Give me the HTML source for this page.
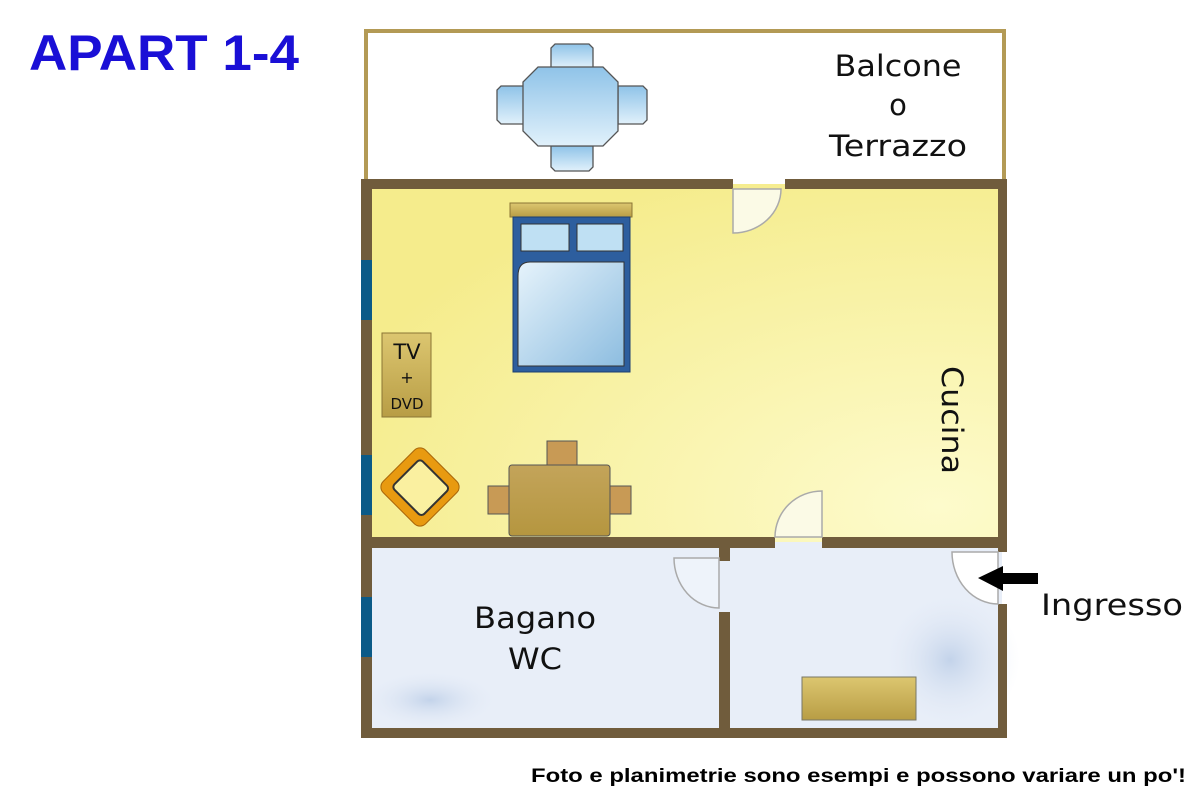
<!DOCTYPE html>
<html><head><meta charset="utf-8"><style>
html,body{margin:0;padding:0;background:#fff;width:1200px;height:800px;overflow:hidden}
svg{display:block}
</style></head><body>
<svg width="1200" height="800" viewBox="0 0 1200 800" xmlns="http://www.w3.org/2000/svg">
<defs>
<linearGradient id="blu" x1="0" y1="0" x2="0" y2="1"><stop offset="0" stop-color="#8fc3e8"/><stop offset="1" stop-color="#e1f1fb"/></linearGradient>
<linearGradient id="bed" x1="0" y1="0" x2="1" y2="1"><stop offset="0" stop-color="#e6f3fb"/><stop offset="1" stop-color="#8dbde0"/></linearGradient>
<radialGradient id="yel" cx="0.9" cy="0.9" r="1"><stop offset="0" stop-color="#fdfbcc"/><stop offset="1" stop-color="#f5ec8c"/></radialGradient>
<radialGradient id="bl1" cx="0.5" cy="0.5" r="0.5"><stop offset="0" stop-color="#c3d3ea"/><stop offset="1" stop-color="#e8eef8" stop-opacity="0"/></radialGradient>
<linearGradient id="gold" x1="0" y1="0" x2="0" y2="1"><stop offset="0" stop-color="#dcc670"/><stop offset="1" stop-color="#b89d45"/></linearGradient>
<linearGradient id="wood" x1="0" y1="0" x2="0" y2="1"><stop offset="0" stop-color="#c3a45a"/><stop offset="1" stop-color="#b5963f"/></linearGradient>
</defs>
<text x="29" y="70" font-family="Liberation Sans, sans-serif" font-weight="bold" font-size="50" fill="#1a0fd6" textLength="270" lengthAdjust="spacingAndGlyphs">APART 1-4</text>

<!-- balcony -->
<rect x="366" y="31" width="638" height="150" fill="#fff" stroke="#b39a55" stroke-width="4"/>
<g fill="url(#blu)" stroke="#555" stroke-width="1.3">
<path d="M551 68 V48 l4-4 h34 l4 4 V68 Z"/>
<path d="M551 146 V167 l4 4 h34 l4-4 V146 Z"/>
<path d="M524 86 H501 l-4 4 v30 l4 4 H524 Z"/>
<path d="M618 86 H643 l4 4 v30 l-4 4 H618 Z"/>
<path d="M538 67 H603 L618 82 V131 L603 146 H538 L523 131 V82 Z"/>
</g>
<g font-family="DejaVu Sans, Liberation Sans, sans-serif" font-size="29" fill="#111" text-anchor="middle">
<text x="898" y="76" textLength="127" lengthAdjust="spacingAndGlyphs">Balcone</text><text x="898" y="115">o</text><text x="898" y="156" textLength="138" lengthAdjust="spacingAndGlyphs">Terrazzo</text>
</g>

<!-- rooms fill -->
<rect x="366" y="184" width="636" height="358" fill="url(#yel)"/>
<rect x="366" y="542" width="636" height="191" fill="#e8eef8"/>
<ellipse cx="430" cy="700" rx="70" ry="30" fill="url(#bl1)"/>
<ellipse cx="950" cy="660" rx="70" ry="70" fill="url(#bl1)"/>
<rect x="733" y="178" width="52" height="6" fill="#fff"/>

<!-- walls -->
<g fill="#705c3c">
<rect x="361" y="179" width="372" height="10"/>
<rect x="785" y="179" width="222" height="10"/>
<rect x="361" y="179" width="11" height="559"/>
<rect x="361" y="728" width="646" height="10"/>
<rect x="998" y="179" width="9" height="373"/>
<rect x="998" y="604" width="9" height="134"/>
<rect x="361" y="537" width="414" height="11"/>
<rect x="822" y="537" width="185" height="11"/>
<rect x="719" y="537" width="11" height="24"/>
<rect x="719" y="612" width="11" height="124"/>
</g>
<g fill="#0b5a87">
<rect x="361" y="260" width="11" height="60"/>
<rect x="361" y="455" width="11" height="60"/>
<rect x="361" y="597" width="11" height="60"/>
</g>
<!-- doors -->
<g fill="#fff" stroke="#aaa" stroke-width="1.5">
<path d="M733 189 V233 A48 44 0 0 0 781 189 Z" fill="#fbfae6"/>
<path d="M822 537 V491 A47 46 0 0 0 775 537 Z" fill="#fbfae6"/>
<path d="M719 558 H674 A45 50 0 0 0 719 608 Z" fill="#eef3fa"/>
<path d="M998 552 H952 A46 52 0 0 0 998 604 Z"/>
</g>

<!-- bed -->
<rect x="510" y="203" width="122" height="14" fill="url(#gold)" stroke="#8a7535"/>
<rect x="513" y="217" width="117" height="155" fill="#2d5e9e" stroke="#1c3f70"/>
<rect x="521" y="224" width="48" height="27" fill="#bfe0f3" stroke="#333"/>
<rect x="577" y="224" width="46" height="27" fill="#bfe0f3" stroke="#333"/>
<path d="M530 262 H624 V366 H518 V276 Q518 262 530 262 Z" fill="url(#bed)" stroke="#333"/>
<!-- TV -->
<rect x="382" y="333" width="49" height="84" fill="url(#gold)" stroke="#8a7535"/>
<g font-family="DejaVu Sans, Liberation Sans, sans-serif" fill="#111" text-anchor="middle">
<text x="407" y="359" font-size="21">TV</text><text x="407" y="383" font-size="16">+</text><text x="407" y="409" font-size="15">DVD</text></g>
<!-- armchair -->
<g transform="translate(420 487) rotate(-45)">
<rect x="-30" y="-30" width="60" height="60" rx="8" fill="#e89a10" stroke="#a8660a"/>
<rect x="-20" y="-20" width="40" height="42" rx="4" fill="#faf0a0" stroke="#333" stroke-width="2"/>
</g>
<!-- table & chairs -->
<rect x="547" y="441" width="30" height="25" fill="#c89a55" stroke="#555"/>
<rect x="488" y="486" width="22" height="28" fill="#c89a55" stroke="#555"/>
<rect x="609" y="486" width="22" height="28" fill="#c89a55" stroke="#555"/>
<rect x="509" y="465" width="101" height="71" rx="3" fill="url(#wood)" stroke="#555"/>
<!-- rug -->
<rect x="802" y="677" width="114" height="43" fill="url(#gold)" stroke="#776"/>

<text transform="translate(942 420) rotate(90)" font-family="DejaVu Sans, Liberation Sans, sans-serif" font-size="29" fill="#111" text-anchor="middle" textLength="108" lengthAdjust="spacingAndGlyphs">Cucina</text>
<g font-family="DejaVu Sans, Liberation Sans, sans-serif" font-size="29" fill="#111" text-anchor="middle">
<text x="535" y="628" textLength="122" lengthAdjust="spacingAndGlyphs">Bagano</text><text x="535" y="669" textLength="54" lengthAdjust="spacingAndGlyphs">WC</text></g>
<text x="1041" y="615" font-family="DejaVu Sans, Liberation Sans, sans-serif" font-size="29" fill="#111" textLength="142" lengthAdjust="spacingAndGlyphs">Ingresso</text>
<path d="M978 578 L1003 566 V573 H1038 V584 H1003 V591 Z" fill="#000"/>
<text x="531" y="782" font-family="Liberation Sans, sans-serif" font-weight="bold" font-size="19" fill="#000" textLength="655" lengthAdjust="spacingAndGlyphs">Foto e planimetrie sono esempi e possono variare un po'!</text>
</svg>
</body></html>
